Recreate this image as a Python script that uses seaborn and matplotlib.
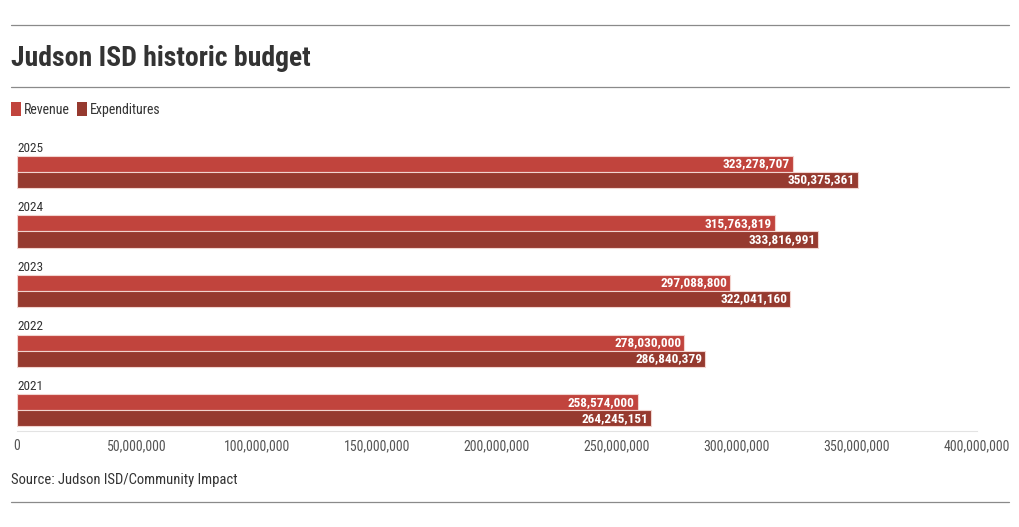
import matplotlib
matplotlib.use("Agg")
import matplotlib.pyplot as plt
import matplotlib.font_manager as fm
import seaborn as sns
import pandas as pd
from matplotlib.ticker import FuncFormatter, MultipleLocator

years = ["2025", "2024", "2023", "2022", "2021"]
revenue = [323278707, 315763819, 297088800, 278030000, 258574000]
expenditures = [350375361, 333816991, 322041160, 286840379, 264245151]
series_names = ["Revenue", "Expenditures"]
colors = ["#c1443d", "#963a2f"]

df = pd.DataFrame({
    "Year": years * 2,
    "Value": revenue + expenditures,
    "Series": [series_names[0]] * len(years) + [series_names[1]] * len(years),
})

sns.set_theme(style="white")
names = {f.name for f in fm.fontManager.ttflist}
fam = "Roboto Condensed" if "Roboto Condensed" in names else (
    "Liberation Sans Narrow" if "Liberation Sans Narrow" in names else "Roboto")
plt.rcParams["font.family"] = [fam, "DejaVu Sans"]

fig = plt.figure(figsize=(10.2, 5.27), dpi=100)
ax = fig.add_axes([17 / 1020, (527 - 431) / 527, 960 / 1020, 296 / 527])

sns.barplot(data=df, y="Year", x="Value", hue="Series", order=years,
            hue_order=series_names, palette=colors, orient="h", width=0.54,
            saturation=1, edgecolor="#f2d4cf", linewidth=0.8, ax=ax,
            legend=True)

ax.set_xlim(0, 400_000_000)
ax.set_ylim(4.35, -0.62)
ax.xaxis.set_major_locator(MultipleLocator(50_000_000))
ax.xaxis.set_major_formatter(FuncFormatter(lambda v, p: f"{int(v):,}"))
ax.tick_params(axis="x", length=9, width=0.8, color="#e3e3e3", pad=-3,
               labelsize=10, labelcolor="#555555")
ax.set_yticks([])
ax.set_xlabel("")
ax.set_ylabel("")
for s in ["top", "right", "left"]:
    ax.spines[s].set_visible(False)
ax.spines["bottom"].set_color("#e3e3e3")
ax.spines["bottom"].set_linewidth(0.8)

# year labels above each group
for i, y in enumerate(years):
    ax.text(0, i - 0.29, y, ha="left", va="bottom", fontsize=9.5,
            color="#333333")

# value labels
for cont in ax.containers:
    labels = [f"{int(b.get_width()):,}" for b in cont]
    ax.bar_label(cont, labels=labels, label_type="edge", padding=-2,
                 color="white", fontsize=9.5, fontweight="bold")
for t in ax.texts:
    if t.get_text() not in years:
        t.set_ha("right")

sns.move_legend(ax, loc="upper left", bbox_to_anchor=(11 / 1020, 1 - 102 / 527),
                bbox_transform=fig.transFigure, ncol=2, frameon=False,
                title=None, fontsize=10, handlelength=0.7, handleheight=1.2,
                handletextpad=0.25, columnspacing=0.5, borderaxespad=0,
                borderpad=0)
leg = ax.get_legend()
for txt in leg.get_texts():
    txt.set_color("#333333")
for h in leg.legend_handles:
    h.set_edgecolor("none")

fig.text(11 / 1020, 1 - 58 / 527, "Judson ISD historic budget", fontsize=20,
         fontweight="bold", color="#333333", va="center", ha="left")
fig.text(11 / 1020, 1 - 480 / 527, "Source: Judson ISD/Community Impact",
         fontsize=10.5, color="#333333", va="center", ha="left")

for ypix in (25, 87, 502):
    fig.add_artist(plt.Line2D([11 / 1020, 1009 / 1020],
                              [1 - ypix / 527, 1 - ypix / 527],
                              color="#8a8a8a", linewidth=0.9))

fig.savefig("out.png", dpi=100, facecolor="white")
